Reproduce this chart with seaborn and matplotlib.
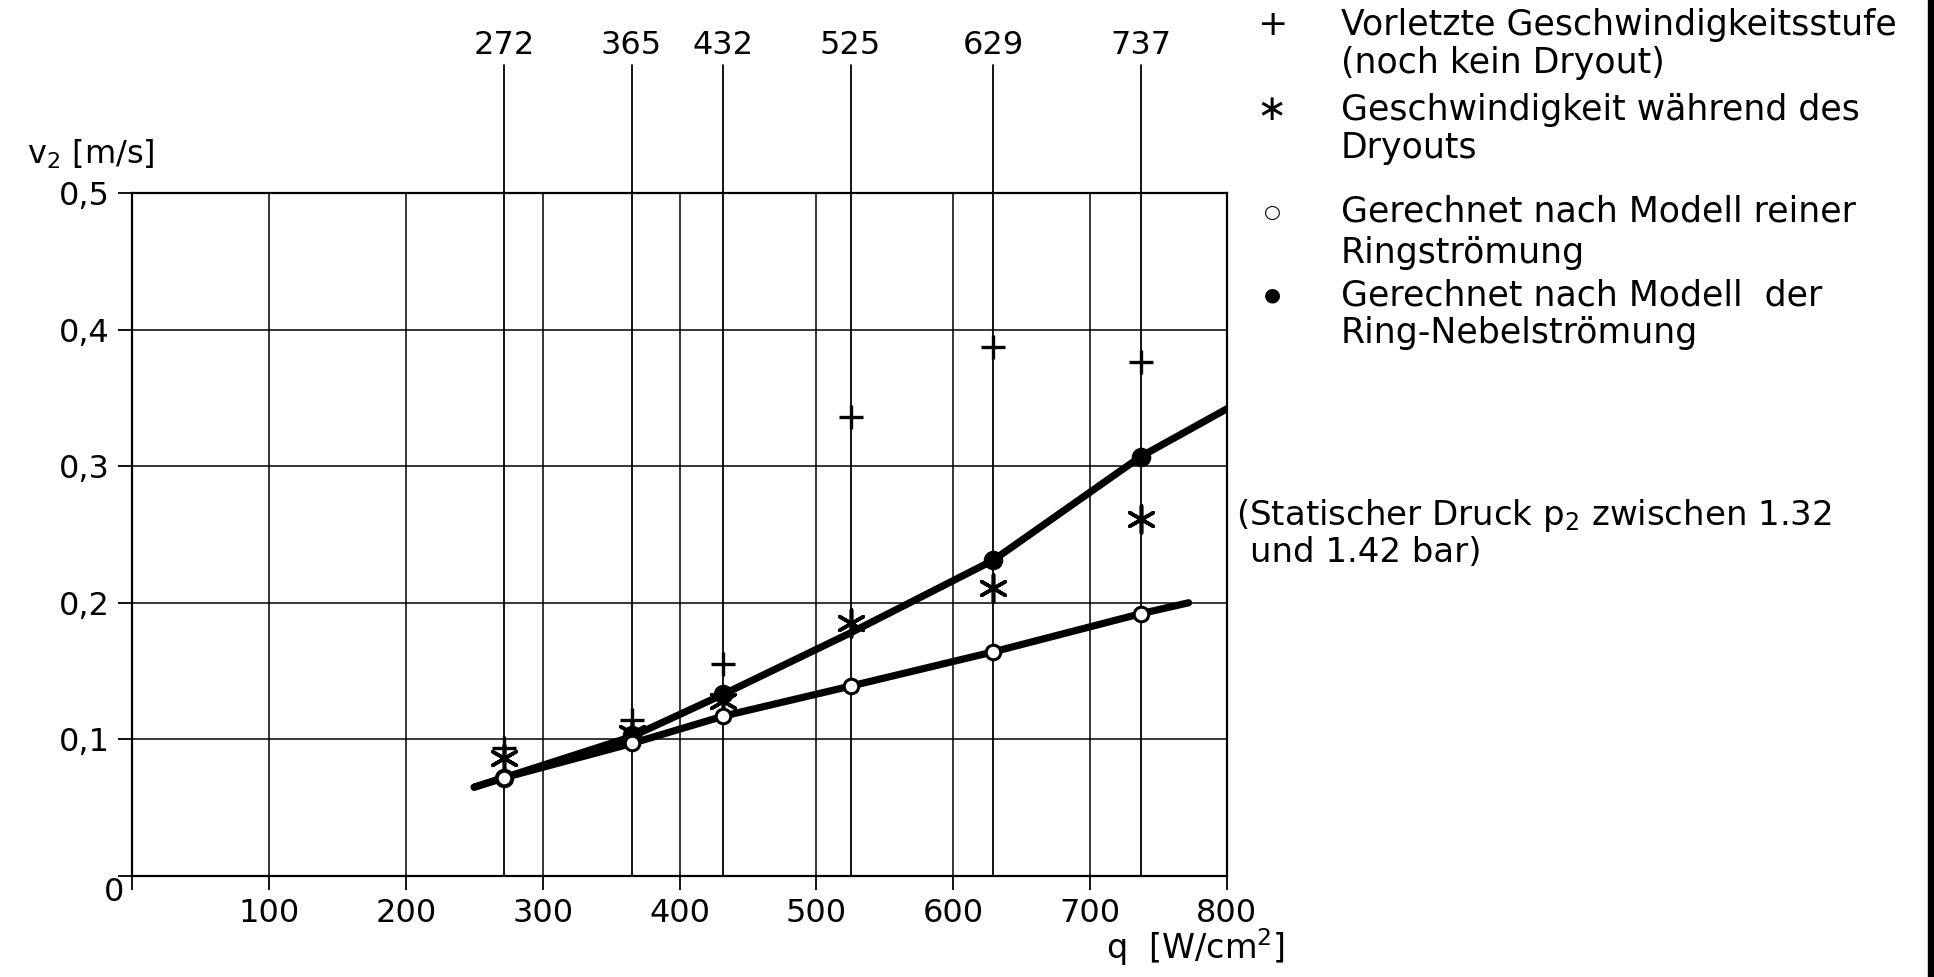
import numpy as np
import pandas as pd
import seaborn as sns
import matplotlib.pyplot as plt
from matplotlib.patches import Rectangle

# heat flux levels of the measurements [W/cm2]
q_levels = [272, 365, 432, 525, 629, 737]

# measured / computed velocities v2 [m/s]
v_plus = [0.094, 0.114, 0.155, 0.336, 0.387, 0.376]     # vorletzte Stufe
v_star = [0.086, 0.105, 0.128, 0.185, 0.211, 0.261]     # waehrend Dryout
v_ring = [0.072, 0.097, 0.117, 0.139, 0.164, 0.192]     # Modell Ringstroemung

q_nebel = [272, 365, 432, 629, 737]
v_nebel = [0.072, 0.103, 0.133, 0.231, 0.307]           # Modell Ring-Nebelstroemung

# drawn curves
curve_ring_q = [250, 272, 365, 432, 525, 629, 737, 772]
curve_ring_v = [0.065, 0.072, 0.097, 0.117, 0.139, 0.164, 0.192, 0.200]
curve_nebel_q = [250, 272, 365, 432, 525, 629, 737, 800]
curve_nebel_v = [0.065, 0.072, 0.102, 0.133, 0.178, 0.231, 0.307, 0.342]

x_ticks = [0, 100, 200, 300, 400, 500, 600, 700, 800]
y_ticks = [0, 0.1, 0.2, 0.3, 0.4, 0.5]
y_tick_labels = ['', '0,1', '0,2', '0,3', '0,4', '0,5']

sns.set_style("ticks")
plt.rcParams['font.family'] = ['DejaVu Sans']
plt.rcParams['text.color'] = 'black'
plt.rcParams['xtick.color'] = 'black'
plt.rcParams['ytick.color'] = 'black'
plt.rcParams['axes.edgecolor'] = 'black'

fig = plt.figure(figsize=(19.34, 9.77), dpi=100)
ax = fig.add_axes([0.0683, 0.1034, 0.5661, 0.6991])

ring_df = pd.DataFrame({'q': curve_ring_q, 'v': curve_ring_v})
nebel_df = pd.DataFrame({'q': curve_nebel_q, 'v': curve_nebel_v})
sns.lineplot(data=ring_df, x='q', y='v', color='black', linewidth=5.2, sort=False, ax=ax, zorder=3)
sns.lineplot(data=nebel_df, x='q', y='v', color='black', linewidth=5.2, sort=False, ax=ax, zorder=3)

pts = pd.DataFrame({'q': q_levels, 'plus': v_plus, 'star': v_star, 'ring': v_ring})
sns.scatterplot(data=pts, x='q', y='plus', marker='+', s=280, color='black', linewidth=2.4, ax=ax, zorder=5)
sns.scatterplot(data=pts, x='q', y='star', marker=(6, 2, 0), s=380, color='black', linewidth=2.6, ax=ax, zorder=5)
sns.scatterplot(data=pd.DataFrame({'q': q_nebel, 'v': v_nebel}), x='q', y='v', marker='o', s=170,
                color='black', edgecolor='black', ax=ax, zorder=4)
sns.scatterplot(data=pts, x='q', y='ring', marker='o', s=110, facecolor='white', edgecolor='black',
                linewidth=2.2, ax=ax, zorder=6)

ax.set_xlim(0, 800)
ax.set_ylim(0, 0.5)
ax.set_xticks(x_ticks)
ax.set_xticklabels([''] + [str(t) for t in x_ticks[1:]])
ax.set_yticks(y_ticks)
ax.set_yticklabels(y_tick_labels)
ax.tick_params(direction='out', length=10, width=1.3, labelsize=23, pad=6, color='black', labelcolor='black')
ax.grid(True, color='black', linewidth=1.1)
for s in ax.spines.values():
    s.set_linewidth(1.6)
    s.set_color('black')
ax.set_xlabel('')
ax.set_ylabel('')

# measurement lines with labels above the frame
for q in q_levels:
    ax.plot([q, q], [0, 0.594], color='black', linewidth=1.3, clip_on=False, zorder=2)
    ax.text(q, 0.608, str(q), ha='center', va='center', fontsize=23, clip_on=False)

ax.text(-6, -0.012, '0', ha='right', va='center', fontsize=23)

fig.text(0.014, 0.842, 'v$_2$ [m/s]', ha='left', va='center', fontsize=23)
fig.text(0.6644, 0.031, 'q  [W/cm$^2$]', ha='right', va='center', fontsize=24)

# legend
sym_x = 1272 / 1934
txt_x = 1341 / 1934
legend_rows = [
    ('+', 'Vorletzte Geschwindigkeitsstufe', 25),
    ('', '(noch kein Dryout)', 63),
    ('\u2217', 'Geschwindigkeit während des', 110),
    ('', 'Dryouts', 148),
    ('\u25cb', 'Gerechnet nach Modell reiner', 212),
    ('', 'Ringströmung', 253),
    ('\u25cf', 'Gerechnet nach Modell  der', 295),
    ('', 'Ring-Nebelströmung', 333),
]
for sym, label, ypix in legend_rows:
    y = 1 - ypix / 977
    if sym:
        size = 14 if sym in ('\u25cb', '\u25cf') else 26
        fig.text(sym_x, y, sym, ha='center', va='center', fontsize=size)
    fig.text(txt_x, y, label, ha='left', va='center', fontsize=25)

fig.text(1236 / 1934, 1 - 515 / 977, '(Statischer Druck p$_2$ zwischen 1.32', ha='left', va='center', fontsize=24.5)
fig.text(1250 / 1934, 1 - 552 / 977, 'und 1.42 bar)', ha='left', va='center', fontsize=24.5)

# dark scan edge at the right border
fig.add_artist(Rectangle((0.9968, 0), 0.0032, 1, transform=fig.transFigure, color='black'))

fig.savefig('out.png', dpi=100)
